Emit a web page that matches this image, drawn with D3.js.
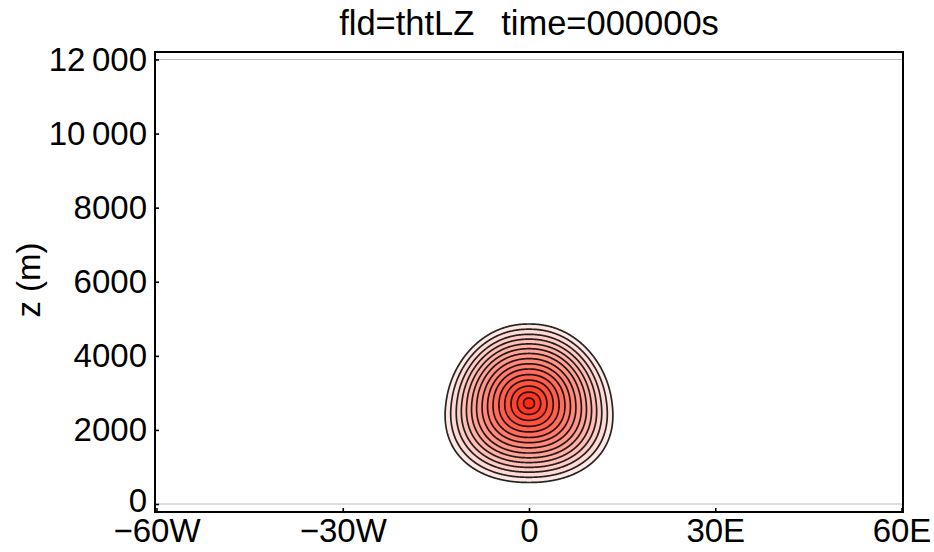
<!DOCTYPE html>
<html>
<head>
<meta charset="utf-8">
<script src="https://cdn.jsdelivr.net/npm/d3@7"></script>
<style>
  body { margin: 0; background: #fff; }
  svg { font-family: "Liberation Sans", Arial, Helvetica, sans-serif; }
</style>
</head>
<body>
<script>
// chart values
const titleText = 'fld=thtLZ\u2002 time=000000s';
const yLabel = 'z (m)';
const xTicks = [-60, -30, 0, 30, 60];
const xTickLabels = ['\u221260W', '\u221230W', '0', '30E', '60E'];
const yTicks = [0, 2000, 4000, 6000, 8000, 10000, 12000];
const yTickLabels = ['0', '2000', '4000', '6000', '8000', '10\u2009000', '12\u2009000'];
const domainLines = [0, 12000];   // model bottom / top (grey lines)

// bubble: centre (deg, m), half widths (deg, m), top-narrowing factor
const bubbleCentre = [0, 2720];
const bubbleRadius = [13.45, 2150];
const bubbleSkew = 0.12;
// contour rings, as fraction of the bubble radius (inner -> outer)
const ringLevels = [0.065, 0.14, 0.215, 0.29, 0.36, 0.43, 0.495, 0.56, 0.625, 0.685, 0.745, 0.805, 0.865, 0.93, 0.995];

let width = 934;
let height = 552;
let frame = { x0: 155, x1: 903, y0: 52, y1: 512 };

let svg = d3.select('body').append('svg')
  .attr('width', width)
  .attr('height', height);

let x = d3.scaleLinear().domain([-60, 60]).range([156.5, 901.5]);
let y = d3.scaleLinear().domain([0, 12000]).range([504, 59.5]);

// grey model boundary lines
svg.selectAll('line.bound')
  .data(domainLines)
  .enter()
  .append('line')
  .attr('class', 'bound')
  .attr('x1', frame.x0).attr('x2', frame.x1)
  .attr('y1', d => y(d)).attr('y2', d => y(d))
  .attr('stroke', '#bdbdbd')
  .attr('stroke-width', 1);

// field on a grid: normalised distance from bubble centre
let gx0 = -18, gx1 = 18, gz0 = 0, gz1 = 5600;
let nx = 361, nz = 281;
let dx = (gx1 - gx0) / (nx - 1), dz = (gz1 - gz0) / (nz - 1);
let values = new Array(nx * nz);
for (let j = 0; j < nz; j++) {
  for (let i = 0; i < nx; i++) {
    let uz = (gz0 + j * dz - bubbleCentre[1]) / bubbleRadius[1];
    let ux = (gx0 + i * dx - bubbleCentre[0]) / bubbleRadius[0] / (1 - bubbleSkew * uz);
    let rho = Math.pow(Math.pow(Math.abs(ux), 2.15) + Math.pow(Math.abs(uz), 2.15), 1 / 2.15);
    values[j * nx + i] = 1 - rho;
  }
}

let thresholds = ringLevels.map(r => 1 - r).reverse();  // outer -> inner
let contours = d3.contours().size([nx, nz]).thresholds(thresholds)(values);

let proj = d3.geoTransform({
  point: function (px, py) {
    this.stream.point(x(gx0 + (px - 0.5) * dx), y(gz0 + (py - 0.5) * dz));
  }
});
let path = d3.geoPath(proj);

let red = d3.interpolateRgb('#fff4f3', '#ff2a10');
let colour = (i) => red((i + 1) / ringLevels.length);

let g = svg.append('g');
g.selectAll('path.band')
  .data(contours)
  .enter()
  .append('path')
  .attr('class', 'band')
  .attr('d', path)
  .attr('fill', (d, i) => colour(i))
  .attr('stroke', '#000')
  .attr('stroke-width', 1.7)
  .attr('stroke-opacity', 0.85);

// frame
svg.append('rect')
  .attr('x', frame.x0).attr('y', frame.y0)
  .attr('width', frame.x1 - frame.x0)
  .attr('height', frame.y1 - frame.y0)
  .attr('fill', 'none')
  .attr('stroke', '#000')
  .attr('stroke-width', 2);

// axes
let yAxis = d3.axisLeft(y)
  .tickValues(yTicks)
  .tickSize(-4)
  .tickPadding(8)
  .tickFormat((d, i) => yTickLabels[i]);
let ya = svg.append('g').attr('transform', `translate(${frame.x0},0)`).call(yAxis);

let xAxis = d3.axisBottom(x)
  .tickValues(xTicks)
  .tickSize(-4)
  .tickPadding(7)
  .tickFormat((d, i) => xTickLabels[i]);
let xa = svg.append('g').attr('transform', `translate(0,${frame.y1})`).call(xAxis);

[ya, xa].forEach(a => {
  a.select('.domain').remove();
  a.selectAll('.tick line').attr('stroke', '#000').attr('stroke-width', 1.6);
  a.selectAll('.tick text')
    .attr('fill', '#000')
    .style('font-family', '"Liberation Sans", Arial, Helvetica, sans-serif')
    .style('font-size', '33px');
});
// lift the "0" label a little so it clears the x labels
ya.selectAll('.tick text').filter(d => d === 0).attr('dy', '0.22em');

// title and axis label
svg.append('text')
  .attr('x', (frame.x0 + frame.x1) / 2)
  .attr('y', 35)
  .attr('text-anchor', 'middle')
  .style('font-size', '34.5px')
  .text(titleText);

svg.append('text')
  .attr('transform', `translate(40,${(frame.y0 + frame.y1) / 2 - 2}) rotate(-90)`)
  .attr('text-anchor', 'middle')
  .style('font-size', '33px')
  .text(yLabel);
</script>
</body>
</html>
